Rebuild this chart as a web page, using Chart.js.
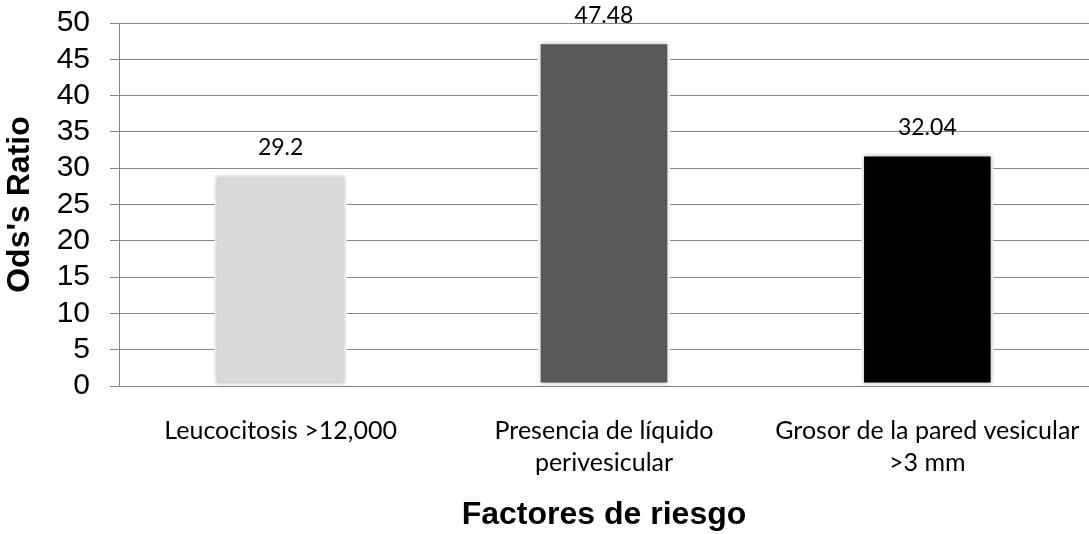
<!DOCTYPE html>
<html>
<head>
<meta charset="utf-8">
<script src="https://cdn.jsdelivr.net/npm/chart.js@4.4.1/dist/chart.umd.min.js"></script>
<style>
  html, body { margin: 0; padding: 0; background: #ffffff; }
  #wrap { width: 1089px; height: 534px; position: relative; }
</style>
</head>
<body>
<div id="wrap"><canvas id="chart" width="1089" height="534"></canvas></div>
<script>
// Risk factors and their odds ratios
const categories = [
  'Leucocitosis >12,000',
  ['Presencia de líquido', 'perivesicular'],
  ['Grosor de la pared vesicular', '>3 mm']
];
const oddsRatios = [29.2, 47.48, 32.04];
const barColors = ['#d9d9d9', '#595959', '#000000'];
const yTicks = [0, 5, 10, 15, 20, 25, 30, 35, 40, 45, 50];
const xTitle = 'Factores de riesgo';
const yTitle = "Ods's Ratio";

const GRID = '#868686';

// Soft drop shadow behind the bars
const barShadow = {
  id: 'barShadow',
  beforeDatasetsDraw(chart) {
    const ctx = chart.ctx;
    ctx.save();
    ctx.shadowColor = 'rgba(0,0,0,0.28)';
    ctx.shadowBlur = 5;
    ctx.shadowOffsetX = 0;
    ctx.shadowOffsetY = 0;
  },
  afterDatasetsDraw(chart) {
    chart.ctx.restore();
  }
};

// Value printed above each bar
const valueLabels = {
  id: 'valueLabels',
  afterDatasetsDraw(chart) {
    const ctx = chart.ctx;
    const meta = chart.getDatasetMeta(0);
    ctx.save();
    ctx.fillStyle = '#000000';
    ctx.font = '23px Lato';
    ctx.textAlign = 'center';
    ctx.textBaseline = 'middle';
    meta.data.forEach((bar, i) => {
      ctx.fillText(String(oddsRatios[i]), bar.x, bar.y - 26);
    });
    ctx.restore();
  }
};

// Axis titles
const axisTitles = {
  id: 'axisTitles',
  afterDraw(chart) {
    const ctx = chart.ctx;
    const area = chart.chartArea;
    ctx.save();
    ctx.fillStyle = '#000000';
    ctx.font = 'bold 32px "Liberation Sans", Arial, sans-serif';
    ctx.textAlign = 'center';
    ctx.textBaseline = 'middle';
    ctx.fillText(xTitle, (area.left + area.right) / 2, 515);
    ctx.translate(20, (area.top + area.bottom) / 2);
    ctx.rotate(-Math.PI / 2);
    ctx.fillText(yTitle, 0, 0);
    ctx.restore();
  }
};

// Keep the plot area fixed: no extra room reserved for overhanging tick labels
function noOverhang(scale) {
  scale.paddingTop = 0;
  scale.paddingBottom = 0;
  scale.paddingLeft = 0;
  scale.paddingRight = 0;
}

function draw() {
  new Chart(document.getElementById('chart'), {
    type: 'bar',
    data: {
      labels: categories,
      datasets: [{
        data: oddsRatios,
        backgroundColor: barColors,
        borderColor: '#ffffff',
        borderWidth: 3,
        borderSkipped: false,
        barPercentage: 0.41,
        categoryPercentage: 1.0
      }]
    },
    options: {
      responsive: false,
      animation: false,
      events: [],
      layout: { padding: { top: 23, right: 0, bottom: 0, left: 0 } },
      plugins: {
        legend: { display: false },
        tooltip: { enabled: false },
        title: { display: false }
      },
      scales: {
        x: {
          grid: { display: false },
          border: { display: true, color: GRID, width: 1 },
          ticks: {
            color: '#000000',
            font: { family: 'Lato', size: 25, lineHeight: 1.28 },
            padding: 21,
            maxRotation: 0,
            autoSkip: false
          },
          afterFit(scale) { scale.height = 148; noOverhang(scale); }
        },
        y: {
          min: 0,
          max: 50,
          afterBuildTicks(scale) {
            scale.ticks = yTicks.map(v => ({ value: v }));
          },
          grid: {
            color: GRID,
            lineWidth: 1,
            drawTicks: true,
            tickLength: 9,
            tickColor: GRID
          },
          border: { display: true, color: GRID, width: 1 },
          ticks: {
            color: '#000000',
            font: { family: '"Liberation Sans", Arial, sans-serif', size: 30 },
            padding: 20,
            autoSkip: false
          },
          afterFit(scale) { scale.width = 119; noOverhang(scale); }
        }
      }
    },
    plugins: [barShadow, valueLabels, axisTitles]
  });
}

if (document.fonts && document.fonts.load) {
  Promise.all([
    document.fonts.load('23px Lato'),
    document.fonts.load('30px "Liberation Sans"'),
    document.fonts.load('bold 32px "Liberation Sans"')
  ]).then(draw, draw);
} else {
  draw();
}
</script>
</body>
</html>
